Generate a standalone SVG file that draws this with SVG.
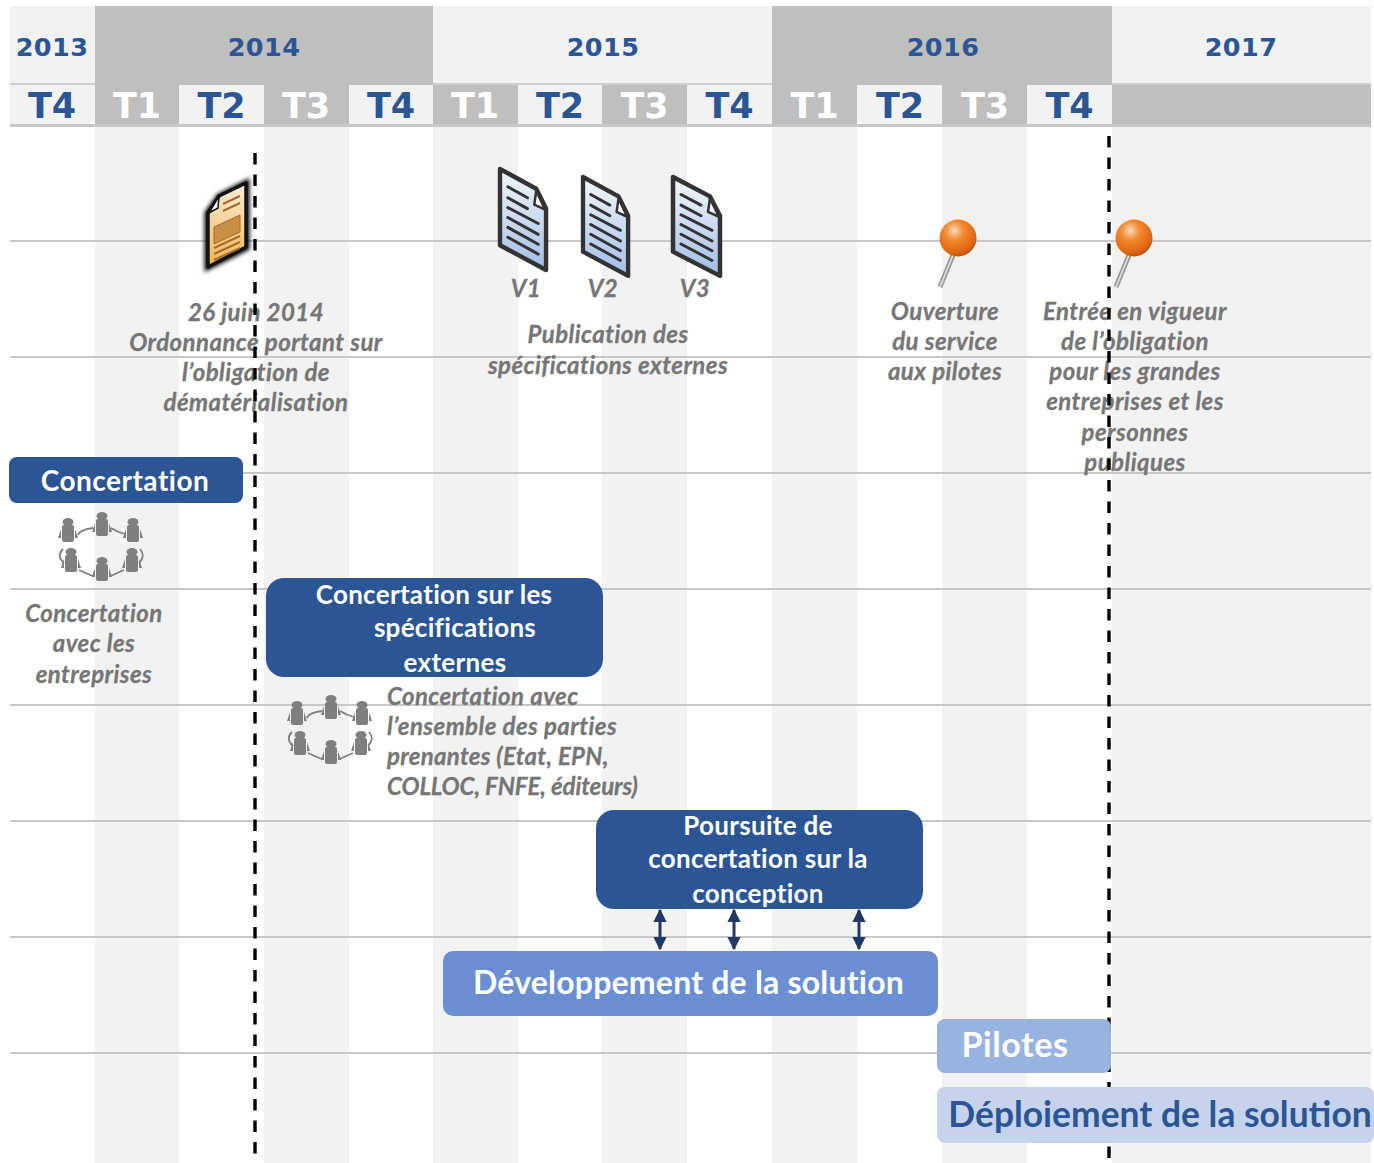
<svg xmlns="http://www.w3.org/2000/svg" width="1374" height="1163" viewBox="0 0 1374 1163">
<style>
.yr{font:bold 25.500px "DejaVu Sans",sans-serif;fill:#2b5594;text-anchor:middle;letter-spacing:.4px}
.q{font:bold 35px "DejaVu Sans",sans-serif;text-anchor:middle}
.qb{fill:#2b5594}.qw{fill:#fff}
.n{font:italic bold 24px Lato,"Open Sans",sans-serif;fill:#767676;stroke:#767676;stroke-width:.3px;text-anchor:middle;letter-spacing:.45px;transform:translateY(.6px)}
.s{text-anchor:start}
.b{font:bold 26px Lato,"Open Sans",sans-serif;fill:#fff;text-anchor:middle;letter-spacing:.3px}
.grid{stroke:#c8c8c8;stroke-width:2;fill:none}
.dash{stroke:#000;stroke-width:3.4;stroke-dasharray:11.5 10;fill:none}
.arr{stroke:#1f3864;stroke-width:3;fill:none;marker-start:url(#ah);marker-end:url(#ah)}
.docline{stroke:#333;stroke-width:3;stroke-linecap:round;fill:none}
</style>
<defs>
<marker id="ah" viewBox="0 0 10 10" refX="9" refY="5" markerWidth="4.4" markerHeight="4.4" orient="auto-start-reverse"><path d="M0 0L10 5L0 10Z" fill="#1f3864"/></marker>
<linearGradient id="blueDoc" x1="0" y1="0" x2="0" y2="1"><stop offset="0" stop-color="#f5f8fd"/><stop offset="1" stop-color="#a0bde6"/></linearGradient>
<linearGradient id="goldDoc" x1="0" y1="0" x2="0" y2="1"><stop offset="0" stop-color="#fbeeda"/><stop offset="1" stop-color="#eeb652"/></linearGradient>
<radialGradient id="ball" cx="0.4" cy="0.3" r="0.75"><stop offset="0" stop-color="#fbd9b8"/><stop offset="0.35" stop-color="#f28a30"/><stop offset="0.8" stop-color="#e0650f"/><stop offset="1" stop-color="#a84a08"/></radialGradient>
<filter id="soft" x="-30%" y="-30%" width="160%" height="160%"><feGaussianBlur stdDeviation="2"/></filter>
<g id="person"><ellipse cx="0" cy="-11" rx="5.5" ry="4"/><rect x="-6" y="-8" width="12" height="17" rx="2"/><path d="M-7-4L-10 5L-7 5Z"/><path d="M7-4L10 5L7 5Z"/></g>
<g id="circlePeople" fill="#7f7f7f">
<use href="#person" x="1" y="-21"/><use href="#person" x="-33" y="-15"/><use href="#person" x="32" y="-15"/>
<use href="#person" x="-30" y="15"/><use href="#person" x="31" y="15"/><use href="#person" x="1" y="24"/>
<path d="M-23-13Q-22-18-8-20M10-20Q16-16 24-14M-38 1Q-45 8-37 15M39 1Q45 8 38 15M-22 22Q-16 25-8 28M10 28Q16 25 23 22" fill="none" stroke="#7f7f7f" stroke-width="1.8"/>
</g>
<g id="blueDocIcon">
<path d="M0 0L37 20L47 40L47 102L0 77Z" fill="url(#blueDoc)" stroke="#333" stroke-width="4.5" stroke-linejoin="round"/>
<path d="M37 22L35 36L46 41Z" fill="#fff" stroke="#333" stroke-width="2.6" stroke-linejoin="round"/>
<path class="docline" d="M8 18L28 29M8 29L28 40M8 39L39 55M8 49L39 66M8 59L39 76M8 69L39 86"/>
</g>
<g id="pinIcon">
<path d="M-5 17L-18 49" stroke="#9a9a9a" stroke-width="5" fill="none"/>
<path d="M-5 17L-18 49" stroke="#e4e4e4" stroke-width="1.5" fill="none"/>
<circle cx="0" cy="0" r="18.5" fill="url(#ball)"/>
</g>
</defs>

<g id="bands">
<rect x="10" y="6" width="85" height="77" fill="#f2f2f2"/>
<rect x="95" y="6" width="338" height="77" fill="#bfbfbf"/>
<rect x="433" y="6" width="339" height="77" fill="#f2f2f2"/>
<rect x="772" y="6" width="340" height="77" fill="#bfbfbf"/>
<rect x="1112" y="6" width="259" height="77" fill="#f2f2f2"/>
<rect x="10" y="83" width="1361" height="2" fill="#d0d0d0"/>
<rect x="95" y="83" width="338" height="2" fill="#bfbfbf"/>
<rect x="772" y="83" width="340" height="2" fill="#bfbfbf"/>
<rect x="10" y="85" width="85" height="39" fill="#f2f2f2"/>
<rect x="95" y="85" width="84" height="39" fill="#bfbfbf"/>
<rect x="179" y="85" width="85" height="39" fill="#f2f2f2"/>
<rect x="264" y="85" width="85" height="39" fill="#bfbfbf"/>
<rect x="349" y="85" width="84" height="39" fill="#f2f2f2"/>
<rect x="433" y="85" width="85" height="39" fill="#bfbfbf"/>
<rect x="518" y="85" width="84" height="39" fill="#f2f2f2"/>
<rect x="602" y="85" width="85" height="39" fill="#bfbfbf"/>
<rect x="687" y="85" width="85" height="39" fill="#f2f2f2"/>
<rect x="772" y="85" width="85" height="39" fill="#bfbfbf"/>
<rect x="857" y="85" width="85" height="39" fill="#f2f2f2"/>
<rect x="942" y="85" width="85" height="39" fill="#bfbfbf"/>
<rect x="1027" y="85" width="85" height="39" fill="#f2f2f2"/>
<rect x="1112" y="85" width="259" height="39" fill="#bfbfbf"/>
<rect x="10" y="124" width="1361" height="3" fill="#c8c8c8"/>
<rect x="95" y="127" width="84" height="1036" fill="#f2f2f2"/>
<rect x="264" y="127" width="85" height="1036" fill="#f2f2f2"/>
<rect x="433" y="127" width="85" height="1036" fill="#f2f2f2"/>
<rect x="602" y="127" width="85" height="1036" fill="#f2f2f2"/>
<rect x="772" y="127" width="85" height="1036" fill="#f2f2f2"/>
<rect x="942" y="127" width="85" height="1036" fill="#f2f2f2"/>
<rect x="1112" y="127" width="259" height="1036" fill="#f2f2f2"/>
</g>
<g id="grid">
<path class="grid" d="M10 241H1371M10 357H1371M10 473H1371M10 589H1371M10 705H1371M10 821H1371M10 937H1371M10 1053H1371"/>
</g>
<g id="headers">
<text class="yr" x="52" y="55.500">2013</text>
<text class="yr" x="264" y="55.500">2014</text>
<text class="yr" x="603" y="55.500">2015</text>
<text class="yr" x="943" y="55.500">2016</text>
<text class="yr" x="1241" y="55.500">2017</text>
<text class="q qb" x="52" y="117.500">T4</text>
<text class="q qw" x="137" y="117.500">T1</text>
<text class="q qb" x="221.500" y="117.500">T2</text>
<text class="q qw" x="306" y="117.500">T3</text>
<text class="q qb" x="391" y="117.500">T4</text>
<text class="q qw" x="475" y="117.500">T1</text>
<text class="q qb" x="560" y="117.500">T2</text>
<text class="q qw" x="644.500" y="117.500">T3</text>
<text class="q qb" x="729.500" y="117.500">T4</text>
<text class="q qw" x="814.500" y="117.500">T1</text>
<text class="q qb" x="900" y="117.500">T2</text>
<text class="q qw" x="985" y="117.500">T3</text>
<text class="q qb" x="1069.500" y="117.500">T4</text>
</g>
<g id="doc-ordonnance">
<path d="M219 196L247 182L247 248L207 268L207 213Z" fill="#000" stroke="#000" stroke-width="5" filter="url(#soft)"/>
<path d="M219 196L246 183L246 247L208 267L208 213Z" fill="url(#goldDoc)" stroke="#111" stroke-width="3.5" stroke-linejoin="round"/>
<path d="M219 196L218 208L209 213Z" fill="#fff" stroke="#111" stroke-width="1.5"/>
<path d="M223 204L240 196M223 211L240 203" stroke="#a8692a" stroke-width="2"/>
<path d="M214 227L240 215L240 232L214 244Z" fill="#c98f47" stroke="#a8692a" stroke-width="1"/>
<path d="M214 248L240 236M214 254L240 242M214 260L240 248" stroke="#a8692a" stroke-width="2"/>
</g>
<g id="note-ordonnance">
<text class="n" x="256" y="320">26 juin 2014</text>
<text class="n" x="256" y="350">Ordonnance portant sur</text>
<text class="n" x="256" y="380">l’obligation de</text>
<text class="n" x="256" y="410">dématérialisation</text>
</g>
<g id="doc-v1"><use href="#blueDocIcon" transform="translate(500 169) scale(.98 .99)"/><text class="n" x="526" y="296">V1</text></g>
<g id="doc-v2"><use href="#blueDocIcon" transform="translate(583 177) scale(.96 .97)"/><text class="n" x="603" y="296">V2</text></g>
<g id="doc-v3"><use href="#blueDocIcon" transform="translate(673 177) scale(1 .97)"/><text class="n" x="695" y="296">V3</text></g>
<g id="note-publication">
<text class="n" x="608" y="342">Publication des</text>
<text class="n" x="608" y="373">spécifications externes</text>
</g>
<g id="pin-pilotes"><use href="#pinIcon" x="958" y="238"/>
<text class="n" x="945" y="319">Ouverture</text>
<text class="n" x="945" y="349">du service</text>
<text class="n" x="945" y="379">aux pilotes</text>
</g>
<g id="pin-vigueur"><use href="#pinIcon" x="1134" y="238"/>
<text class="n" x="1135" y="319">Entrée en vigueur</text>
<text class="n" x="1135" y="349">de l’obligation</text>
<text class="n" x="1135" y="379">pour les grandes</text>
<text class="n" x="1135" y="409">entreprises et les</text>
<text class="n" x="1135" y="440">personnes</text>
<text class="n" x="1135" y="470">publiques</text>
</g>
<g id="concertation">
<rect x="9" y="457" width="234" height="46" rx="8" fill="#2b5594"/>
<text class="b" x="125" y="491" style="font-size:28px;letter-spacing:.5px">Concertation</text>
</g>
<g id="people-1"><use href="#circlePeople" x="101" y="548"/></g>
<g id="note-concertation">
<text class="n" x="94" y="621">Concertation</text>
<text class="n" x="94" y="651">avec les</text>
<text class="n" x="94" y="682">entreprises</text>
</g>
<g id="concertation-spec">
<rect x="266" y="578" width="337" height="99" rx="18" fill="#2b5594"/>
<text class="b" x="434" y="604">Concertation sur les</text>
<text class="b" x="455" y="637">spécifications</text>
<text class="b" x="455" y="672">externes</text>
</g>
<g id="people-2"><use href="#circlePeople" x="330" y="731"/></g>
<g id="note-parties">
<text class="n s" x="387" y="704">Concertation avec</text>
<text class="n s" x="387" y="734">l’ensemble des parties</text>
<text class="n s" x="387" y="764" style="letter-spacing:.3px">prenantes (Etat, EPN,</text>
<text class="n s" x="387" y="794" style="letter-spacing:-.1px">COLLOC, FNFE, éditeurs)</text>
</g>
<g id="poursuite">
<rect x="596" y="810" width="327" height="99" rx="18" fill="#2b5594"/>
<text class="b" x="758" y="835">Poursuite de</text>
<text class="b" x="758" y="868">concertation sur la</text>
<text class="b" x="758" y="903">conception</text>
</g>
<g id="developpement">
<rect x="443" y="951" width="495" height="65" rx="10" fill="#6a8fd3"/>
<text class="b" x="688.500" y="994" style="font-size:32px;letter-spacing:.2px">Développement de la solution</text>
</g>
<g id="connectors">
<path class="dash" d="M255 153V1160"/>
<path class="dash" d="M1109 136V1163"/>
<path class="arr" d="M660 910V949"/>
<path class="arr" d="M734 910V949"/>
<path class="arr" d="M859 910V949"/>
</g>
<g id="pilotes">
<rect x="937" y="1019" width="174" height="54" rx="8" fill="#98b3e0"/>
<text class="b" x="1015" y="1057" style="font-size:34px;fill:#fff;letter-spacing:.6px">Pilotes</text>
</g>
<g id="deploiement">
<rect x="937" y="1087" width="437" height="56" rx="8" fill="#c5d4ec"/>
<text class="b" x="1160" y="1127" style="font-size:35.400px;fill:#2b5594;letter-spacing:0">Déploiement de la solution</text>
</g>
</svg>
